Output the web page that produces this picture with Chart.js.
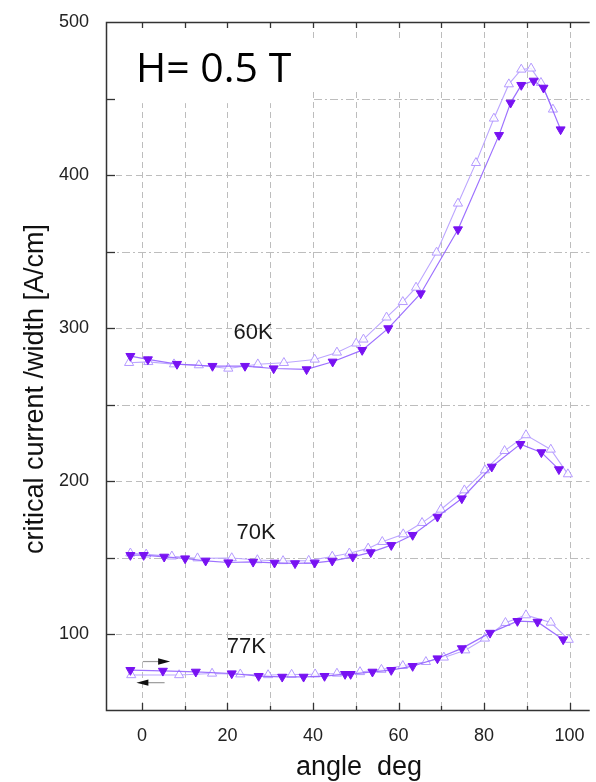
<!DOCTYPE html>
<html>
<head>
<meta charset="utf-8">
<script src="https://cdn.jsdelivr.net/npm/chart.js@4.4.1/dist/chart.umd.min.js"></script>
<style>
  html, body { margin: 0; padding: 0; background: #ffffff; }
  #wrap { width: 596px; height: 782px; position: relative; }
</style>
</head>
<body>
<div id="wrap"><canvas id="c" width="596" height="782"></canvas></div>
<script>
// Tick values
const xTickValues = [0, 10, 20, 30, 40, 50, 60, 70, 80, 90, 100];
const xLabelValues = [0, 20, 40, 60, 80, 100];
const yTickValues = [50, 100, 150, 200, 250, 300, 350, 400, 450, 500];
const yLabelValues = [100, 200, 300, 400, 500];

// 60 K – increasing angle sweep (filled) and decreasing sweep (open)
const angle60Fwd = [-2.7, 1.4, 8.2, 16.5, 24.1, 30.8, 38.5, 44.6, 51.5, 57.6, 65.2, 73.9, 83.5, 86.2, 88.7, 91.6, 93.9, 97.9];
const ic60Fwd    = [281.8, 279.6, 276.6, 275.3, 275.3, 273.7, 273.1, 278.1, 285.7, 299.9, 322.7, 364.5, 426.1, 447.2, 458.8, 461.6, 457.0, 429.8];
const angle60Rev = [-3.0, 1.5, 7.5, 13.3, 20.2, 27.1, 33.2, 40.4, 45.6, 50.1, 51.8, 57.2, 61.0, 64.1, 68.9, 73.9, 78.1, 82.3, 85.8, 88.7, 91.0, 93.3, 96.1];
const ic60Rev    = [277.4, 278.0, 276.5, 275.9, 273.7, 276.5, 277.4, 279.6, 284.2, 290.1, 292.7, 307.1, 317.2, 326.6, 349.5, 381.5, 408.0, 437.0, 459.4, 469.0, 469.7, 460.3, 442.9];

// 70 K
const angle70Fwd = [-2.7, 0.4, 5.2, 10.1, 14.9, 20.2, 26.0, 31.0, 35.8, 40.4, 44.5, 49.3, 53.5, 58.3, 63.3, 69.1, 74.8, 81.8, 88.5, 93.4, 97.5];
const ic70Fwd    = [151.8, 151.8, 150.7, 149.6, 148.1, 147.0, 147.4, 146.8, 146.4, 146.8, 148.1, 150.7, 153.6, 158.3, 164.9, 176.8, 188.8, 209.5, 224.3, 218.9, 207.8];
const angle70Rev = [-2.7, 1.0, 7.0, 13.0, 21.0, 27.0, 33.0, 39.0, 44.5, 48.5, 52.9, 56.2, 61.1, 65.5, 69.9, 75.4, 80.2, 84.8, 89.8, 95.6, 99.6];
const ic70Rev    = [153.0, 152.3, 151.0, 149.8, 149.9, 148.6, 148.0, 148.2, 150.9, 153.0, 156.2, 160.5, 165.5, 172.9, 181.6, 194.2, 207.3, 219.9, 230.2, 220.8, 204.7];

// 77 K
const angle77Fwd = [-2.7, 4.9, 12.6, 21.0, 27.3, 32.8, 37.8, 42.7, 47.5, 48.8, 53.9, 58.3, 63.3, 69.1, 74.8, 81.4, 87.8, 92.5, 98.5];
const ic77Fwd    = [76.7, 76.2, 75.6, 74.5, 72.8, 72.3, 72.3, 72.8, 74.1, 74.1, 75.6, 76.7, 79.3, 84.3, 90.9, 101.0, 108.7, 108.2, 96.7];
const angle77Rev = [-2.5, 8.7, 16.4, 23.0, 29.5, 35.0, 40.5, 45.6, 51.0, 56.0, 61.0, 66.4, 70.6, 75.6, 80.2, 85.0, 89.8, 95.6, 99.8];
const ic77Rev    = [73.5, 73.5, 74.5, 74.0, 73.5, 73.8, 74.0, 74.5, 75.5, 77.0, 79.5, 82.1, 85.0, 89.7, 97.4, 107.6, 112.6, 107.8, 96.6];

// Curve labels and field annotation
const curveLabels = [
  { text: '60K', x: 26.0, y: 297 },
  { text: '70K', x: 26.7, y: 166 },
  { text: '77K', x: 24.4, y: 92 }
];
const fieldLabel = 'H= 0.5 T';
const xTitle = 'angle  deg';
const yTitle = 'critical current /width [A/cm]';

// Sweep direction arrows near the 77 K curve (from -> to, in data units)
const sweepArrows = [
  { x0: 0.2, x1: 6.6, y: 82.3 },
  { x0: 5.3, x1: -1.3, y: 68.5 }
];

const toPoints = (xs, ys) => xs.map((x, i) => ({ x: x, y: ys[i] }));

const FILL_COLOR = '#7812f2';
const FWD_LINE = 'rgba(146,98,255,0.9)';
const REV_LINE = '#bca6ff';

function fwdSet(xs, ys) {
  return {
    data: toPoints(xs, ys),
    showLine: true,
    borderColor: FWD_LINE,
    borderWidth: 1.2,
    pointStyle: 'triangle',
    rotation: 180,
    pointRadius: 5.2,
    pointBackgroundColor: FILL_COLOR,
    pointBorderColor: FILL_COLOR,
    pointBorderWidth: 1,
    tension: 0
  };
}
function revSet(xs, ys) {
  return {
    data: toPoints(xs, ys),
    showLine: true,
    borderColor: REV_LINE,
    borderWidth: 1.1,
    pointStyle: 'triangle',
    pointRadius: 5.3,
    pointBackgroundColor: 'rgba(255,255,255,0.85)',
    pointBorderColor: '#b49aff',
    pointBorderWidth: 1,
    tension: 0
  };
}

const GRID = '#bdbdbd';
const AXIS = '#333333';

const decorPlugin = {
  id: 'decor',
  beforeDatasetsDraw(chart) {
    const ctx = chart.ctx;
    const xs = chart.scales.x, ys = chart.scales.y;
    const a = chart.chartArea;
    ctx.save();

    // grid lines
    ctx.lineWidth = 1;
    ctx.strokeStyle = GRID;
    ctx.beginPath(); ctx.rect(a.left, a.top, a.right - a.left, a.bottom - a.top); ctx.clip();
    ctx.setLineDash([6, 4]);
    xTickValues.forEach(v => {
      const px = Math.round(xs.getPixelForValue(v)) + 0.5;
      ctx.beginPath(); ctx.moveTo(px, a.top); ctx.lineTo(px, a.bottom); ctx.stroke();
    });
    yTickValues.forEach(v => {
      if (v === 500 || v === 50) return;
      const py = Math.round(ys.getPixelForValue(v)) + 0.5;
      ctx.setLineDash(v % 100 === 0 ? [6, 4] : [8, 3, 2, 3]);
      ctx.beginPath(); ctx.moveTo(a.left, py); ctx.lineTo(a.right, py); ctx.stroke();
    });
    ctx.setLineDash([]);

    // white text panels in the upper left corner
    ctx.fillStyle = '#ffffff';
    const xb = xs.getPixelForValue(40) - 1;
    ctx.fillRect(a.left, a.top, xb - a.left, ys.getPixelForValue(447) - a.top);
    ctx.fillRect(xb - 4, ys.getPixelForValue(487), xs.getPixelForValue(65.5) - xb + 4, ys.getPixelForValue(455.5) - ys.getPixelForValue(487));
    ctx.restore();

    ctx.save();
    // frame
    ctx.strokeStyle = AXIS;
    ctx.lineWidth = 1.5;
    ctx.beginPath();
    ctx.moveTo(a.right, a.top + 0.5); ctx.lineTo(a.left + 0.5, a.top + 0.5);
    ctx.lineTo(a.left + 0.5, a.bottom - 0.5); ctx.lineTo(a.right, a.bottom - 0.5);
    ctx.stroke();

    // tick marks (inward)
    ctx.lineWidth = 1.3;
    xTickValues.forEach(v => {
      const px = Math.round(xs.getPixelForValue(v)) + 0.5;
      const major = v % 20 === 0;
      ctx.beginPath(); ctx.moveTo(px, a.bottom); ctx.lineTo(px, a.bottom - (major ? 8 : 5)); ctx.stroke();
      ctx.beginPath(); ctx.moveTo(px, a.top); ctx.lineTo(px, a.top + 6); ctx.stroke();
    });
    yTickValues.forEach(v => {
      if (v === 500 || v === 50) return;
      const py = Math.round(ys.getPixelForValue(v)) + 0.5;
      ctx.beginPath(); ctx.moveTo(a.left, py); ctx.lineTo(a.left + 9, py); ctx.stroke();
    });

    // field annotation
    ctx.fillStyle = '#000000';
    ctx.font = '41px "Open Sans"';
    ctx.textAlign = 'left';
    ctx.textBaseline = 'alphabetic';
    ctx.fillText(fieldLabel, 136, 82);

    // curve labels
    ctx.fillStyle = '#1a1a1a';
    ctx.font = '22px "Liberation Sans"';
    ctx.textAlign = 'center';
    ctx.textBaseline = 'middle';
    curveLabels.forEach(l => ctx.fillText(l.text, xs.getPixelForValue(l.x), ys.getPixelForValue(l.y)));

    // sweep arrows
    sweepArrows.forEach(ar => {
      const p0 = xs.getPixelForValue(ar.x0), p1 = xs.getPixelForValue(ar.x1);
      const py = ys.getPixelForValue(ar.y);
      const dir = Math.sign(p1 - p0);
      ctx.strokeStyle = '#9a9a9a';
      ctx.lineWidth = 1.2;
      ctx.beginPath(); ctx.moveTo(p0, py); ctx.lineTo(p1 - dir * 10, py); ctx.stroke();
      ctx.fillStyle = '#111111';
      ctx.beginPath();
      ctx.moveTo(p1, py); ctx.lineTo(p1 - dir * 12, py - 3.2); ctx.lineTo(p1 - dir * 12, py + 3.2);
      ctx.closePath(); ctx.fill();
    });

    // axis titles
    ctx.fillStyle = '#111111';
    ctx.font = '27px "Liberation Sans"';
    ctx.textAlign = 'center';
    ctx.textBaseline = 'alphabetic';
    ctx.fillText(xTitle, 359, 775);
    ctx.save();
    ctx.translate(43, 389);
    ctx.rotate(-Math.PI / 2);
    ctx.fillText(yTitle, 0, 0);
    ctx.restore();

    ctx.restore();
  }
};

new Chart(document.getElementById('c'), {
  type: 'scatter',
  data: {
    datasets: [
      fwdSet(angle60Fwd, ic60Fwd),
      fwdSet(angle70Fwd, ic70Fwd),
      fwdSet(angle77Fwd, ic77Fwd),
      revSet(angle60Rev, ic60Rev),
      revSet(angle70Rev, ic70Rev),
      revSet(angle77Rev, ic77Rev)
    ]
  },
  options: {
    responsive: false,
    animation: false,
    devicePixelRatio: 1,
    layout: { padding: { top: 22, right: 0, left: 0, bottom: 0 } },
    plugins: { legend: { display: false }, tooltip: { enabled: false } },
    scales: {
      x: {
        type: 'linear',
        min: -8.4,
        max: 104.7,
        afterBuildTicks: s => { s.ticks = xLabelValues.map(v => ({ value: v })); },
        afterFit: s => { s.height = 71; },
        grid: { display: false },
        border: { display: false },
        ticks: {
          autoSkip: false, maxRotation: 0, padding: 6,
          color: '#222222',
          font: { family: '"Liberation Sans"', size: 18 }
        }
      },
      y: {
        type: 'linear',
        min: 50,
        max: 500,
        afterBuildTicks: s => { s.ticks = yLabelValues.map(v => ({ value: v })); },
        afterFit: s => { s.width = 106; },
        grid: { display: false },
        border: { display: false },
        ticks: {
          autoSkip: false, padding: 9,
          color: '#222222',
          font: { family: '"Liberation Sans"', size: 18 }
        }
      }
    }
  },
  plugins: [decorPlugin]
});
</script>
</body>
</html>
